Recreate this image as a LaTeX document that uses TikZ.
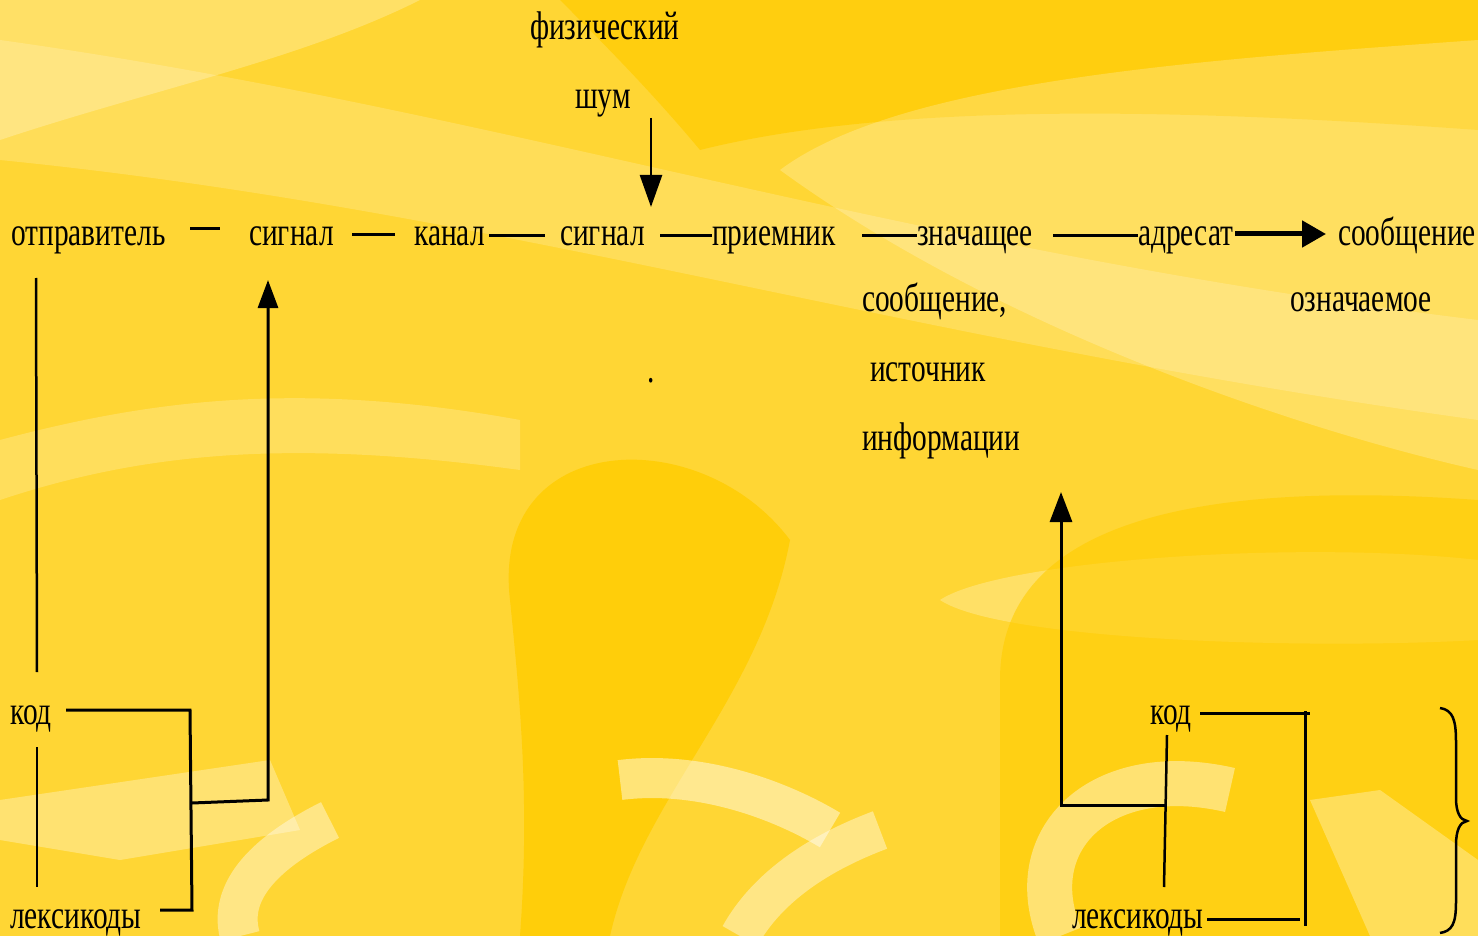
\documentclass[tikz,border=0pt]{standalone}
\usepackage{fontspec}
\setmainfont[FakeStretch=0.735]{Liberation Serif}
\usetikzlibrary{arrows.meta}
\definecolor{bgmain}{RGB}{255,214,52}
\definecolor{bgdark}{RGB}{255,204,0}
\definecolor{bglight}{RGB}{255,232,130}
\begin{document}
\begin{tikzpicture}[x=1pt,y=-1pt,
  lbl/.style={anchor=base west, inner sep=0pt, font=\fontsize{40}{40}\selectfont},
  ln/.style={line width=3pt},
  thin/.style={line width=2.5pt}]
% background
\fill[bgmain] (0,0) rectangle (1478,936);
\useasboundingbox (0,0) rectangle (1478,936);
\fill[bgdark,opacity=.7] (560,0) -- (1478,0) -- (1478,130) .. controls (1200,110) and (900,100) .. (700,150) .. controls (650,90) and (600,40) .. (560,0) -- cycle;
\fill[white,opacity=.18] (0,40) .. controls (500,110) and (900,250) .. (1478,320) -- (1478,420) .. controls (900,340) and (500,210) .. (0,160) -- cycle;
\fill[white,opacity=.22] (780,170) .. controls (900,80) and (1200,60) .. (1478,40) -- (1478,470) .. controls (1300,430) and (1000,330) .. (780,170) -- cycle;
\fill[white,opacity=.25] (0,0) -- (420,0) .. controls (300,60) and (150,90) .. (0,140) -- cycle;
\fill[bgdark,opacity=.8] (510,600) .. controls (490,430) and (700,420) .. (790,540) .. controls (760,700) and (640,800) .. (610,936) -- (520,936) .. controls (530,800) and (520,700) .. (510,600) -- cycle;
\fill[white,opacity=.2] (0,440) .. controls (150,400) and (300,380) .. (520,420) -- (520,470) .. controls (300,440) and (150,450) .. (0,500) -- cycle;
\fill[white,opacity=.25] (940,600) .. controls (1000,560) and (1300,540) .. (1478,560) -- (1478,640) .. controls (1300,650) and (1000,640) .. (940,600) -- cycle;
\fill[bgdark,opacity=.6] (1000,680) .. controls (1000,520) and (1200,480) .. (1478,500) -- (1478,936) -- (1000,936) -- cycle;
\draw[white,opacity=.45,line width=40pt] (620,780) .. controls (700,770) and (780,800) .. (830,830);
\draw[white,opacity=.4,line width=45pt] (1230,790) .. controls (1100,760) and (1020,840) .. (1060,936);
\draw[white,opacity=.4,line width=40pt] (880,830) .. controls (800,860) and (760,900) .. (740,936);
\draw[white,opacity=.4,line width=40pt] (330,820) .. controls (250,860) and (230,900) .. (240,936);
\fill[white,opacity=.3] (0,800) -- (270,760) -- (300,830) -- (120,860) -- (0,840) -- cycle;
\fill[white,opacity=.3] (1310,800) -- (1380,790) -- (1478,860) -- (1478,936) -- (1370,936) -- cycle;

% top labels
\node[lbl] (otpr) at (11,245) {отправитель};
\node[lbl] (sig1) at (249,245) {сигнал};
\node[lbl] (kanal) at (414,245) {канал};
\node[lbl] (sig2) at (560,245) {сигнал};
\node[lbl] (prm) at (712,245) {приемник};
\node[lbl] (zn) at (917,245) {значащее};
\node[lbl] (adr) at (1138,245) {адресат};
\node[lbl] (soob) at (1338,245) {сообщение};
\node[lbl] (fiz) at (530,40) {физический};
\node[lbl] (shum) at (575,109) {шум};
\node[lbl] (soob2) at (862,311) {сообщение,};
\node[lbl] (ist) at (870,381) {источник};
\node[lbl] (inf) at (862,450) {информации};
\node[lbl] (ozn) at (1290,311) {означаемое};
\node[lbl] (dot) at (647,382) {.};
\node[lbl] (kod1) at (10,724) {код};
\node[lbl] (lex1) at (10,928) {лексикоды};
\node[lbl] (kod2) at (1150,724) {код};
\node[lbl] (lex2) at (1072,928) {лексикоды};

% top row connectors
\coordinate (d1a) at (190,229); \coordinate (d1b) at (220,229);
\draw[ln] (d1a) -- (d1b);
\coordinate (d2a) at (352,235); \coordinate (d2b) at (395,235);
\draw[ln] (d2a) -- (d2b);
\coordinate (k1) at (489,236); \coordinate (k2) at (545,236);
\draw[ln] (k1) -- (k2);
\coordinate (s2a) at (660,236);
\draw[ln] (s2a) -- (prm.west |- s2a);
\coordinate (pz) at (862,236);
\draw[ln] (pz) -- (zn.west |- pz);
\coordinate (za) at (1053,236);
\draw[ln] (za) -- (adr.west |- za);
\coordinate (aa) at (1235,234); \coordinate (ab) at (1326,234);
\draw[line width=5pt,-{Triangle[width=26pt,length=24pt]}] (aa) -- (ab);
% noise arrow
\coordinate (n1) at (651,118); \coordinate (n2) at (651,207);
\draw[thin,-{Triangle[width=22pt,length=32pt]}] (n1) -- (n2);

% left block
\coordinate (lv1) at (36,278); \coordinate (lv2) at (37,672);
\draw[thin] (lv1) -- (lv2);
\coordinate (lv3) at (37,747); \coordinate (lv4) at (37,887);
\draw[thin] (lv3) -- (lv4);
\coordinate (lb1) at (66,710); \coordinate (lb2) at (190,710);
\coordinate (lb3) at (192,910); \coordinate (lb4) at (160,910);
\draw[ln] (lb1) -- (lb2) -- (lb3) -- (lb4);
\coordinate (lj) at (192,803); \coordinate (lk) at (268,800); \coordinate (lt) at (268,280);
\draw[ln,-{Triangle[width=20pt,length=28pt]}] (lj) -- (lk) -- (lt);

% right block
\coordinate (rb1) at (1200,713); \coordinate (rb2) at (1310,713);
\draw[ln] (rb1) -- (rb2);
\coordinate (rv1) at (1305,711); \coordinate (rv2) at (1305,926);
\draw[ln] (rv1) -- (rv2);
\coordinate (rl1) at (1207,919); \coordinate (rl2) at (1300,919);
\draw[ln] (rl1) -- (rl2);
\coordinate (rm1) at (1167,735); \coordinate (rm2) at (1164,887);
\draw[thin] (rm1) -- (rm2);
\coordinate (rj) at (1166,805); \coordinate (rk) at (1061,805); \coordinate (rt) at (1061,492);
\draw[ln,-{Triangle[width=22pt,length=30pt]}] (rj) -- (rk) -- (rt);

% brace
\draw[thin] (1440,708) .. controls (1453,710) and (1456,720) .. (1456,742) -- (1456,798)
  .. controls (1456,812) and (1460,820) .. (1467,821)
  .. controls (1460,822) and (1456,830) .. (1456,845) -- (1456,902)
  .. controls (1456,924) and (1452,931) .. (1440,933);
\end{tikzpicture}
\end{document}
